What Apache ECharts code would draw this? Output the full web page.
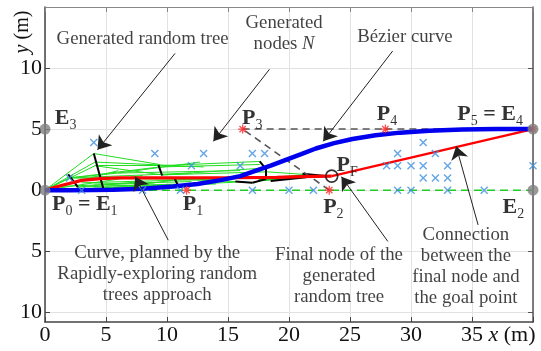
<!DOCTYPE html>
<html><head><meta charset="utf-8">
<script src="https://cdn.jsdelivr.net/npm/echarts@6/dist/echarts.min.js"></script>
<style>html,body{margin:0;padding:0;background:#fff}#c{width:541px;height:351px}</style>
</head><body><div id="c"></div>
<script>
const FONT = "'Liberation Serif','Times New Roman',serif";
// axes
const xTicks = [0, 5, 10, 15, 20, 25, 30, 35, 40];
const yTicks = [-10, -5, 0, 5, 10];
// Bezier control points P0..P5
const controlX = [0, 11.6, 23.3, 16.2, 27.9, 40];
const controlY = [0, 0, 0, 5, 5, 5];
// Bezier curve (blue)
const bezierX = [0, 2, 4, 5.6, 8, 10.5, 12.5, 14.4, 16, 17.3, 18.5, 19.8, 21, 22.2, 23.7, 25.2, 27.1, 29.1, 31.5, 34.2, 37, 40];
const bezierY = [0, 0, 0.01, 0.04, 0.12, 0.29, 0.5, 0.82, 1.15, 1.59, 2.0, 2.5, 2.95, 3.41, 3.85, 4.19, 4.5, 4.71, 4.86, 4.96, 5.0, 5];
// RRT curve (red)
const rrtX = [0, 1.4, 3, 4.5, 6, 10, 15, 19, 21, 23.5];
const rrtY = [0, 0.4, 0.8, 0.95, 1.0, 1.0, 1.02, 1.05, 1.1, 1.15];
// connection final node -> goal
const connectX = [23.5, 40];
const connectY = [1.15, 5];
// generated nodes N
const nodesX = [4, 2, 3, 8, 11.1, 9, 13, 12, 16, 17, 18, 17, 20, 22, 28, 28.9, 28.9, 28.9, 30, 30, 31, 31, 31, 32, 32, 33, 33, 33, 36, 40];
const nodesY = [3.9, 1, 0, 0, 0, 3, 3, 2, 2, 3, 3, 0, 0, 0, 2, 3, 2, 0, 2, 0, 3.9, 2, 1, 3, 1, 2, 1, 0, 0, 2];
// boundary points E1..E4
const boundX = [0, 40, 0, 40];
const boundY = [0, 0, 5, 5];
// random tree edges [x1,y1,x2,y2]
const treeEdges = [
  [0,0,4.0,3.0],[0,0,4.1,2.3],[0,0,4.1,2.0],[0,0,2.0,1.0],[4.1,2.0,9.4,2.0],[2.0,1.0,9.4,1.9],
  [4.1,2.0,9.6,1.25],[9.4,2.0,17.6,2.35],[9.4,1.9,17.6,2.1],[9.6,1.25,17.8,1.8],[9.6,1.25,18.2,1.5],
  [2.0,1.0,10.5,0.9],[0,0,10.9,0.45],[2.6,0.25,10.9,0.5],[10.5,0.9,15.6,0.7],[10.9,0.45,15.6,0.65],
  [15.6,0.7,17.0,0.6],[17.0,0.6,18.2,0.95],[18.2,0.95,21.1,1.2],[18.2,1.5,21.1,1.3],[2.6,0.25,8,0.7],
  [4.8,0.1,10.5,0.8],[4.0,3.0,9.4,2.1],[2.0,1.0,6,1.4],[6,1.4,12.7,2.3],[0,0,6,1.6],[2,1,12,1.4],
  [4.1,2.3,13,1.9],[0,0,8,1.2],[6,1.4,16,1.6],[3,0.6,14,0.9],[1,0.3,9,0.6],[4,0.5,12,0.7],[5,0.35,14,0.5]
];
const thickTree = [[17.5,0.85,21.3,1.15]];
const blackEdges = [
  [1.9,1.3,2.7,0.25],[4.0,3.0,4.8,0.05],[9.3,2.05,9.6,1.2],[10.6,1.0,10.9,0.4],
  [17.6,2.35,18.1,1.75],[18.1,1.75,18.1,0.9],[15.6,0.7,17.0,0.6],[17.0,0.6,18.1,0.9],[21.1,1.35,23.0,1.15],[18.5,0.75,21.4,1.05]
];
// labels
const labelTexts = ['{b|E}{s|3}', '{b|P}{s|3}', '{b|P}{s|4}', '{b|P}{s|5}{b| = E}{s|4}', '{b|P}{s|F}', '{b|P}{s|0}{b| = E}{s|1}', '{b|P}{s|1}', '{b|P}{s|2}', '{b|E}{s|2}'];
const labelX = [0.8, 16.15, 27.2, 33.8, 23.9, 0.57, 11.3, 22.8, 37.5];
const labelY = [5.75, 5.75, 6.1, 6.1, 1.95, -1.3, -1.3, -1.5, -1.5];
// annotations
const noteTexts = ['Generated random tree', 'Generated\nnodes {i|N}', 'Bézier curve', 'Curve, planned by the\nRapidly-exploring random\ntrees approach', 'Final node of the\ngenerated\nrandom tree', 'Connection\nbetween the\nfinal node and\nthe goal point'];
const noteX = [8.0, 19.6, 29.5, 9.2, 24.1, 34.5];
const noteY = [12.4, 12.8, 12.5, -6.9, -7.05, -6.3];
const arrowFrom = [[10.66, 11.2], [18.4, 9.9], [28.5, 11.4], [10.1, -4.1], [28.1, -4.2], [35.5, -2.85]];
const arrowTo = [[4.3, 3.3], [13.8, 4.0], [22.8, 4.0], [7.4, 1.1], [24.3, 1.1], [33.7, 3.6]];

const zip = (a, b) => a.map((v, i) => [v, b[i]]);
const segs = arr => arr.map(s => ({coords: [[s[0], s[1]], [s[2], s[3]]]}));

const chart = echarts.init(document.getElementById('c'), null, {renderer: 'canvas'});
const axisFont = {fontFamily: FONT, fontSize: 22, color: '#111'};
const option = {
  animation: false,
  backgroundColor: '#fff',
  grid: {left: 45, right: 8, top: 7, bottom: 29, containLabel: false},
  xAxis: [
    {type: 'value', min: 0, max: 40, interval: 5, position: 'bottom',
     axisLine: {onZero: false, lineStyle: {color: '#444', width: 1.5}},
     axisTick: {inside: true, length: 5, lineStyle: {color: '#444'}},
     axisLabel: Object.assign({margin: 2, formatter: v => v === 40 ? '' : String(v)}, axisFont),
     splitLine: {show: true, lineStyle: {color: '#e2e2e2', width: 1}}},
    {type: 'value', min: 0, max: 40, interval: 5, position: 'top',
     axisLine: {onZero: false, lineStyle: {color: '#888', width: 1}},
     axisTick: {inside: true, length: 5, lineStyle: {color: '#888'}},
     axisLabel: {show: false}, splitLine: {show: false}}
  ],
  yAxis: [
    {type: 'value', min: -10.8, max: 15, position: 'left',
     axisLine: {onZero: false, lineStyle: {color: '#444', width: 1.5}},
     axisTick: {inside: true, length: 5, customValues: yTicks, lineStyle: {color: '#444'}},
     axisLabel: Object.assign({margin: 3, customValues: yTicks, formatter: v => String(Math.abs(v))}, axisFont),
     splitLine: {show: true, lineStyle: {color: '#e2e2e2', width: 1}}},
    {type: 'value', min: -10.8, max: 15, position: 'right',
     axisLine: {onZero: false, lineStyle: {color: '#555', width: 1.5}},
     axisTick: {inside: true, length: 5, customValues: yTicks, lineStyle: {color: '#555'}},
     axisLabel: {show: false}, splitLine: {show: false}}
  ],
  graphic: [{
    type: 'text', x: 23, y: 32, rotation: Math.PI / 2, z: 100,
    style: {text: '{i|y} (m)', fontFamily: FONT, fontSize: 20, fill: '#111', align: 'center', verticalAlign: 'middle',
      rich: {i: {fontStyle: 'italic', fontFamily: FONT, fontSize: 20, fill: '#111'}}}
  }, {
    type: 'text', x: 512, y: 335, z: 100,
    style: {text: '{i|x} (m)', fontFamily: FONT, fontSize: 22, fill: '#111', align: 'center', verticalAlign: 'middle',
      rich: {i: {fontStyle: 'italic', fontFamily: FONT, fontSize: 22, fill: '#111'}}}
  }],
  series: [
    {type: 'lines', coordinateSystem: 'cartesian2d', z: 1, silent: true,
     lineStyle: {color: '#22dd22', width: 1, opacity: 1}, data: segs(treeEdges)},
    {type: 'lines', coordinateSystem: 'cartesian2d', z: 1, silent: true,
     lineStyle: {color: '#22cc22', width: 3.5, opacity: 1}, data: segs(thickTree)},
    {type: 'lines', coordinateSystem: 'cartesian2d', z: 2, silent: true,
     lineStyle: {color: '#000', width: 2, opacity: 1}, data: segs(blackEdges)},
    {type: 'line', z: 3, showSymbol: false, data: zip([boundX[0], boundX[1]], [boundY[0], boundY[1]]),
     lineStyle: {color: '#22cc22', width: 1.5, type: [8, 5]}},
    {type: 'lines', coordinateSystem: 'cartesian2d', z: 3, silent: true,
     lineStyle: {color: '#555', width: 1.6, type: [7, 5], opacity: 1},
     data: [2, 3, 4].map(i => ({coords: [[controlX[i], controlY[i]], [controlX[i + 1], controlY[i + 1]]]}))},
    {type: 'line', z: 4, showSymbol: false, data: zip(rrtX, rrtY), lineStyle: {color: '#ff0000', width: 3.2}},
    {type: 'line', z: 4, showSymbol: false, data: zip(connectX, connectY), lineStyle: {color: '#ff0000', width: 2.5}},
    {type: 'line', z: 5, showSymbol: false, data: zip(bezierX, bezierY), lineStyle: {color: '#0000ee', width: 4.5}},
    {type: 'scatter', z: 6, clip: false, symbol: 'path://M0,-5L0,5M-5,0L5,0M-3.5,-3.5L3.5,3.5M-3.5,3.5L3.5,-3.5',
     symbolSize: 9, itemStyle: {color: 'none', borderColor: '#ff2020', borderWidth: 1.3},
     data: zip(controlX.slice(1), controlY.slice(1))},
    {type: 'scatter', z: 6, clip: false, symbol: 'path://M-1,-1L1,1M-1,1L1,-1',
     symbolSize: 7, itemStyle: {color: 'none', borderColor: '#3b8ee0', borderWidth: 1.4},
     data: zip(nodesX, nodesY)},
    {type: 'scatter', z: 7, clip: false, symbol: 'circle', symbolSize: 11,
     itemStyle: {color: '#808080'}, data: zip(boundX, boundY)},
    {type: 'scatter', z: 7, clip: false, symbol: 'circle', symbolSize: 12,
     itemStyle: {color: 'none', borderColor: '#000', borderWidth: 1.6}, data: [[connectX[0], connectY[0]]]},
    {type: 'scatter', z: 8, clip: false, symbolSize: 0, silent: true,
     data: labelTexts.map((t, i) => ({value: [labelX[i], labelY[i]], label: {formatter: t}})),
     label: {show: true, position: [0, 0], align: 'left', verticalAlign: 'middle', color: '#000',
       rich: {
         b: {fontFamily: FONT, fontSize: 22, fontWeight: 'bold', color: '#000', lineHeight: 25, verticalAlign: 'top'},
         s: {fontFamily: FONT, fontSize: 14, color: '#000', lineHeight: 14, verticalAlign: 'bottom'}
       }}},
    {type: 'scatter', z: 8, clip: false, symbolSize: 0, silent: true,
     data: noteTexts.map((t, i) => ({value: [noteX[i], noteY[i]], label: {formatter: t}})),
     label: {show: true, position: [0, 0], align: 'center', verticalAlign: 'middle', color: '#111',
       fontFamily: FONT, fontSize: 18.8, lineHeight: 21,
       rich: {i: {fontStyle: 'italic', fontFamily: FONT, fontSize: 18.8, lineHeight: 21, color: '#111'}}}},
    {type: 'lines', coordinateSystem: 'cartesian2d', z: 9, silent: true,
     symbol: ['none', 'arrow'], symbolSize: 13,
     lineStyle: {color: '#222', width: 1, opacity: 1}, itemStyle: {color: '#000'},
     data: arrowFrom.map((f, i) => ({coords: [f, arrowTo[i]]}))}
  ]
};
chart.setOption(option);
</script></body></html>
